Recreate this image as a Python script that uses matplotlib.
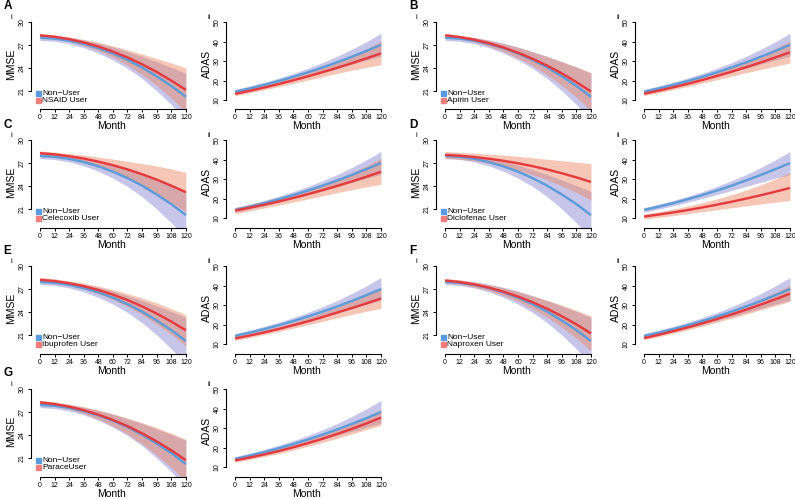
import matplotlib
matplotlib.use("Agg")
import matplotlib.pyplot as plt

plt.rcParams['font.family'] = ['Liberation Sans', 'DejaVu Sans']

months = [0, 12, 24, 36, 48, 60, 72, 84, 96, 108, 120]
x_ticks = [0, 12, 24, 36, 48, 60, 72, 84, 96, 108, 120]
mmse_ticks = [21, 24, 27, 30]
adas_ticks = [10, 20, 30, 40, 50]

panel_letters = ["A", "B", "C", "D", "E", "F", "G"]
user_labels = ["NSAID User", "Apirin User", "Celecoxib User", "Diclofenac User",
               "Ibuprofen User", "Naproxen User", "ParaceUser"]
ref_label = "Non\u2212User"

# Non-user (reference) curves, shared by every panel
mmse_non_mean = [27.97, 27.85, 27.58, 27.16, 26.60, 25.90, 25.05, 24.06, 22.90, 21.63, 20.20]
mmse_non_lo = [27.62, 27.50, 27.18, 26.66, 25.95, 25.05, 23.95, 22.61, 21.00, 19.18, 17.10]
mmse_non_hi = [28.32, 28.20, 27.98, 27.66, 27.25, 26.75, 26.15, 25.51, 24.80, 24.08, 23.30]
adas_non_mean = [14.30, 15.97, 17.81, 19.81, 21.97, 24.30, 26.79, 29.45, 32.27, 35.25, 38.40]
adas_non_lo = [13.10, 14.70, 16.45, 18.30, 20.20, 22.25, 24.30, 26.40, 28.50, 30.60, 32.60]
adas_non_hi = [15.50, 17.25, 19.20, 21.35, 23.75, 26.40, 29.30, 32.50, 36.10, 40.00, 44.30]

# MMSE, drug users
mmse_nsaid_mean = [28.28, 28.09, 27.78, 27.35, 26.81, 26.15, 25.37, 24.48, 23.47, 22.34, 21.10]
mmse_nsaid_lo = [28.03, 27.84, 27.48, 26.95, 26.26, 25.40, 24.37, 23.13, 21.72, 20.04, 18.20]
mmse_nsaid_hi = [28.53, 28.34, 28.08, 27.75, 27.36, 26.90, 26.37, 25.83, 25.22, 24.64, 24.00]

mmse_aspirin_mean = [28.28, 28.05, 27.71, 27.25, 26.68, 26.00, 25.20, 24.30, 23.28, 22.14, 20.90]
mmse_aspirin_lo = [28.03, 27.80, 27.41, 26.85, 26.18, 25.30, 24.30, 23.10, 21.73, 20.14, 18.40]
mmse_aspirin_hi = [28.53, 28.30, 28.01, 27.65, 27.18, 26.70, 26.10, 25.50, 24.83, 24.14, 23.40]

mmse_celecoxib_mean = [28.33, 28.17, 27.93, 27.62, 27.22, 26.75, 26.20, 25.56, 24.85, 24.06, 23.20]
mmse_celecoxib_lo = [28.03, 27.87, 27.58, 27.17, 26.62, 25.95, 25.15, 24.16, 23.05, 21.86, 20.60]
mmse_celecoxib_hi = [28.63, 28.47, 28.28, 28.07, 27.82, 27.55, 27.25, 26.96, 26.65, 26.26, 25.80]

mmse_diclofenac_mean = [28.10, 27.99, 27.82, 27.60, 27.33, 27.00, 26.62, 26.18, 25.69, 25.15, 24.55]
mmse_diclofenac_lo = [27.65, 27.54, 27.32, 27.00, 26.58, 26.10, 25.52, 24.83, 24.04, 23.15, 22.15]
mmse_diclofenac_hi = [28.55, 28.44, 28.32, 28.20, 28.08, 27.90, 27.72, 27.53, 27.34, 27.15, 26.95]

mmse_ibuprofen_mean = [28.25, 28.08, 27.80, 27.41, 26.91, 26.30, 25.58, 24.75, 23.81, 22.76, 21.60]
mmse_ibuprofen_lo = [27.95, 27.78, 27.50, 27.01, 26.41, 25.65, 24.73, 23.65, 22.41, 21.06, 19.55]
mmse_ibuprofen_hi = [28.55, 28.38, 28.10, 27.81, 27.41, 26.95, 26.43, 25.85, 25.21, 24.46, 23.65]

mmse_naproxen_mean = [28.15, 27.95, 27.64, 27.22, 26.69, 26.05, 25.30, 24.44, 23.47, 22.39, 21.20]
mmse_naproxen_lo = [27.85, 27.65, 27.29, 26.82, 26.19, 25.40, 24.45, 23.34, 22.02, 20.54, 18.90]
mmse_naproxen_hi = [28.45, 28.25, 27.99, 27.62, 27.19, 26.70, 26.15, 25.54, 24.92, 24.24, 23.50]

mmse_parace_mean = [28.30, 28.08, 27.74, 27.28, 26.70, 26.00, 25.18, 24.24, 23.18, 22.00, 20.70]
mmse_parace_lo = [28.00, 27.78, 27.39, 26.83, 26.10, 25.20, 24.13, 22.84, 21.38, 19.75, 17.95]
mmse_parace_hi = [28.60, 28.38, 28.09, 27.73, 27.30, 26.80, 26.23, 25.64, 24.98, 24.25, 23.45]

# ADAS, drug users
adas_nsaid_mean = [13.20, 14.78, 16.46, 18.26, 20.18, 22.20, 24.34, 26.59, 28.95, 31.42, 34.00]
adas_nsaid_lo = [12.20, 13.70, 15.30, 16.90, 18.60, 20.30, 22.00, 23.70, 25.30, 26.80, 28.20]
adas_nsaid_hi = [14.20, 15.90, 17.70, 19.70, 21.85, 24.20, 26.80, 29.60, 32.80, 36.30, 40.30]

adas_aspirin_mean = [13.30, 14.87, 16.57, 18.39, 20.33, 22.40, 24.59, 26.90, 29.34, 31.91, 34.60]
adas_aspirin_lo = [12.30, 13.80, 15.40, 17.05, 18.75, 20.50, 22.30, 24.05, 25.75, 27.40, 29.00]
adas_aspirin_hi = [14.30, 15.95, 17.80, 19.80, 21.95, 24.35, 26.95, 29.80, 33.00, 36.50, 40.40]

adas_celecoxib_mean = [14.00, 15.43, 16.99, 18.67, 20.47, 22.40, 24.45, 26.62, 28.92, 31.35, 33.90]
adas_celecoxib_lo = [12.40, 13.80, 15.30, 16.80, 18.35, 19.95, 21.55, 23.15, 24.70, 26.15, 27.40]
adas_celecoxib_hi = [15.60, 17.10, 18.75, 20.60, 22.65, 24.95, 27.45, 30.25, 33.40, 36.90, 40.80]

adas_diclofenac_mean = [10.90, 11.92, 13.04, 14.26, 15.58, 17.00, 18.52, 20.14, 21.86, 23.68, 25.60]
adas_diclofenac_lo = [9.60, 10.50, 11.40, 12.40, 13.40, 14.40, 15.40, 16.40, 17.40, 18.30, 19.20]
adas_diclofenac_hi = [12.30, 13.40, 14.80, 16.30, 18.00, 20.00, 22.10, 24.50, 27.20, 30.20, 33.50]

adas_ibuprofen_mean = [13.00, 14.50, 16.10, 17.90, 19.80, 21.80, 24.00, 26.30, 28.60, 31.00, 33.50]
adas_ibuprofen_lo = [12.00, 13.45, 15.00, 16.60, 18.30, 20.00, 21.80, 23.60, 25.30, 27.00, 28.50]
adas_ibuprofen_hi = [14.00, 15.55, 17.25, 19.20, 21.35, 23.70, 26.30, 29.10, 32.10, 35.40, 39.00]

adas_naproxen_mean = [13.20, 14.90, 16.74, 18.70, 20.78, 23.00, 25.34, 27.81, 30.41, 33.14, 36.00]
adas_naproxen_lo = [12.30, 13.90, 15.65, 17.45, 19.35, 21.35, 23.40, 25.50, 27.70, 29.90, 32.00]
adas_naproxen_hi = [14.10, 15.90, 17.85, 19.95, 22.25, 24.70, 27.35, 30.20, 33.30, 36.60, 40.30]

adas_parace_mean = [13.60, 15.02, 16.60, 18.36, 20.30, 22.40, 24.68, 27.12, 29.74, 32.53, 35.50]
adas_parace_lo = [12.60, 14.00, 15.50, 17.10, 18.90, 20.80, 22.80, 24.90, 27.10, 29.40, 31.50]
adas_parace_hi = [14.60, 16.05, 17.70, 19.60, 21.75, 24.10, 26.70, 29.50, 32.50, 35.80, 39.60]

mmse_users = [
    (mmse_nsaid_mean, mmse_nsaid_lo, mmse_nsaid_hi),
    (mmse_aspirin_mean, mmse_aspirin_lo, mmse_aspirin_hi),
    (mmse_celecoxib_mean, mmse_celecoxib_lo, mmse_celecoxib_hi),
    (mmse_diclofenac_mean, mmse_diclofenac_lo, mmse_diclofenac_hi),
    (mmse_ibuprofen_mean, mmse_ibuprofen_lo, mmse_ibuprofen_hi),
    (mmse_naproxen_mean, mmse_naproxen_lo, mmse_naproxen_hi),
    (mmse_parace_mean, mmse_parace_lo, mmse_parace_hi),
]
adas_users = [
    (adas_nsaid_mean, adas_nsaid_lo, adas_nsaid_hi),
    (adas_aspirin_mean, adas_aspirin_lo, adas_aspirin_hi),
    (adas_celecoxib_mean, adas_celecoxib_lo, adas_celecoxib_hi),
    (adas_diclofenac_mean, adas_diclofenac_lo, adas_diclofenac_hi),
    (adas_ibuprofen_mean, adas_ibuprofen_lo, adas_ibuprofen_hi),
    (adas_naproxen_mean, adas_naproxen_lo, adas_naproxen_hi),
    (adas_parace_mean, adas_parace_lo, adas_parace_hi),
]

# ---- styling / layout ----
W, H = 795, 499
BLUE_LINE = '#5b9bd8'
RED_LINE = '#e5393d'
BLUE_BAND = '#7670cc'
RED_BAND = '#ec8460'
BLUE_KEY = '#5a9be0'
RED_KEY = '#f27d7d'

fig = plt.figure(figsize=(W / 100, H / 100), dpi=100)

row_bottoms = [109.3, 227.5, 353.5, 476.5]
axes_h = 90.4
col_lefts = [30.7, 225.8, 435.8, 634.8]
axes_w = 161.0
XLIM = (-7.6, 124.8)
MMSE_LIM = (18.56, 30.44)
ADAS_LIM = (5.28, 51.72)


def px_axes(left, bottom_y, w, h):
    return fig.add_axes([left / W, (H - bottom_y) / H, w / W, h / H])


def style_axes(ax, yticks, ylabel):
    ax.set_xlim(*XLIM)
    for s in ['top', 'right']:
        ax.spines[s].set_visible(False)
    ax.spines['left'].set_bounds(yticks[0], yticks[-1])
    ax.spines['bottom'].set_bounds(x_ticks[0], x_ticks[-1])
    for s in ['left', 'bottom']:
        ax.spines[s].set_linewidth(0.8)
    ax.set_xticks(x_ticks)
    ax.set_yticks(yticks)
    ax.set_yticklabels([str(t) for t in yticks], rotation=90, va='center')
    ax.tick_params(axis='both', direction='out', length=2.5, width=0.7,
                   labelsize=5.0, pad=1.2)
    ax.set_xlabel('Month', fontsize=7.5, labelpad=0.0)
    ax.set_ylabel(ylabel, fontsize=7.5, labelpad=1.5)


def draw_pair(ax, non, user):
    nm, nl, nh = non
    um, ul, uh = user
    ax.fill_between(months, nl, nh, color=BLUE_BAND, alpha=0.40, lw=0)
    ax.fill_between(months, ul, uh, color=RED_BAND, alpha=0.46, lw=0)
    ax.plot(months, nm, color=BLUE_LINE, lw=1.7, solid_capstyle='butt')
    ax.plot(months, um, color=RED_LINE, lw=1.7, solid_capstyle='butt')


for i in range(7):
    r = i // 2
    c = (i % 2) * 2
    bottom_y = row_bottoms[r]
    top_y = bottom_y - axes_h
    tick30_y = top_y + 3.4

    ax1 = px_axes(col_lefts[c], bottom_y, axes_w, axes_h)
    draw_pair(ax1, (mmse_non_mean, mmse_non_lo, mmse_non_hi), mmse_users[i])
    ax1.set_ylim(*MMSE_LIM)
    style_axes(ax1, mmse_ticks, 'MMSE')
    # legend (R style)
    ax1.plot([0.045], [0.18], marker='s', ms=3.6, color=BLUE_KEY, ls='',
             transform=ax1.transAxes, clip_on=False)
    ax1.plot([0.045], [0.10], marker='s', ms=3.6, color=RED_KEY, ls='',
             transform=ax1.transAxes, clip_on=False)
    ax1.text(0.072, 0.18, ref_label, fontsize=6.0, va='center', ha='left',
             transform=ax1.transAxes)
    ax1.text(0.072, 0.10, user_labels[i], fontsize=6.0, va='center', ha='left',
             transform=ax1.transAxes)

    ax2 = px_axes(col_lefts[c + 1], bottom_y, axes_w, axes_h)
    draw_pair(ax2, (adas_non_mean, adas_non_lo, adas_non_hi), adas_users[i])
    ax2.set_ylim(*ADAS_LIM)
    style_axes(ax2, adas_ticks, 'ADAS')

    # panel letters and sub-labels
    fig.text((col_lefts[c] - 27) / W, (H - (tick30_y - 16)) / H, panel_letters[i],
             fontsize=8.5, fontweight='bold', ha='left', va='center')
    fig.text((col_lefts[c] - 19) / W, (H - (tick30_y - 5)) / H, 'i',
             fontsize=5.5, ha='center', va='center')
    fig.text((col_lefts[c + 1] - 17) / W, (H - (tick30_y - 5)) / H, 'ii',
             fontsize=5.5, ha='center', va='center')

fig.savefig('out.png', dpi=100)
